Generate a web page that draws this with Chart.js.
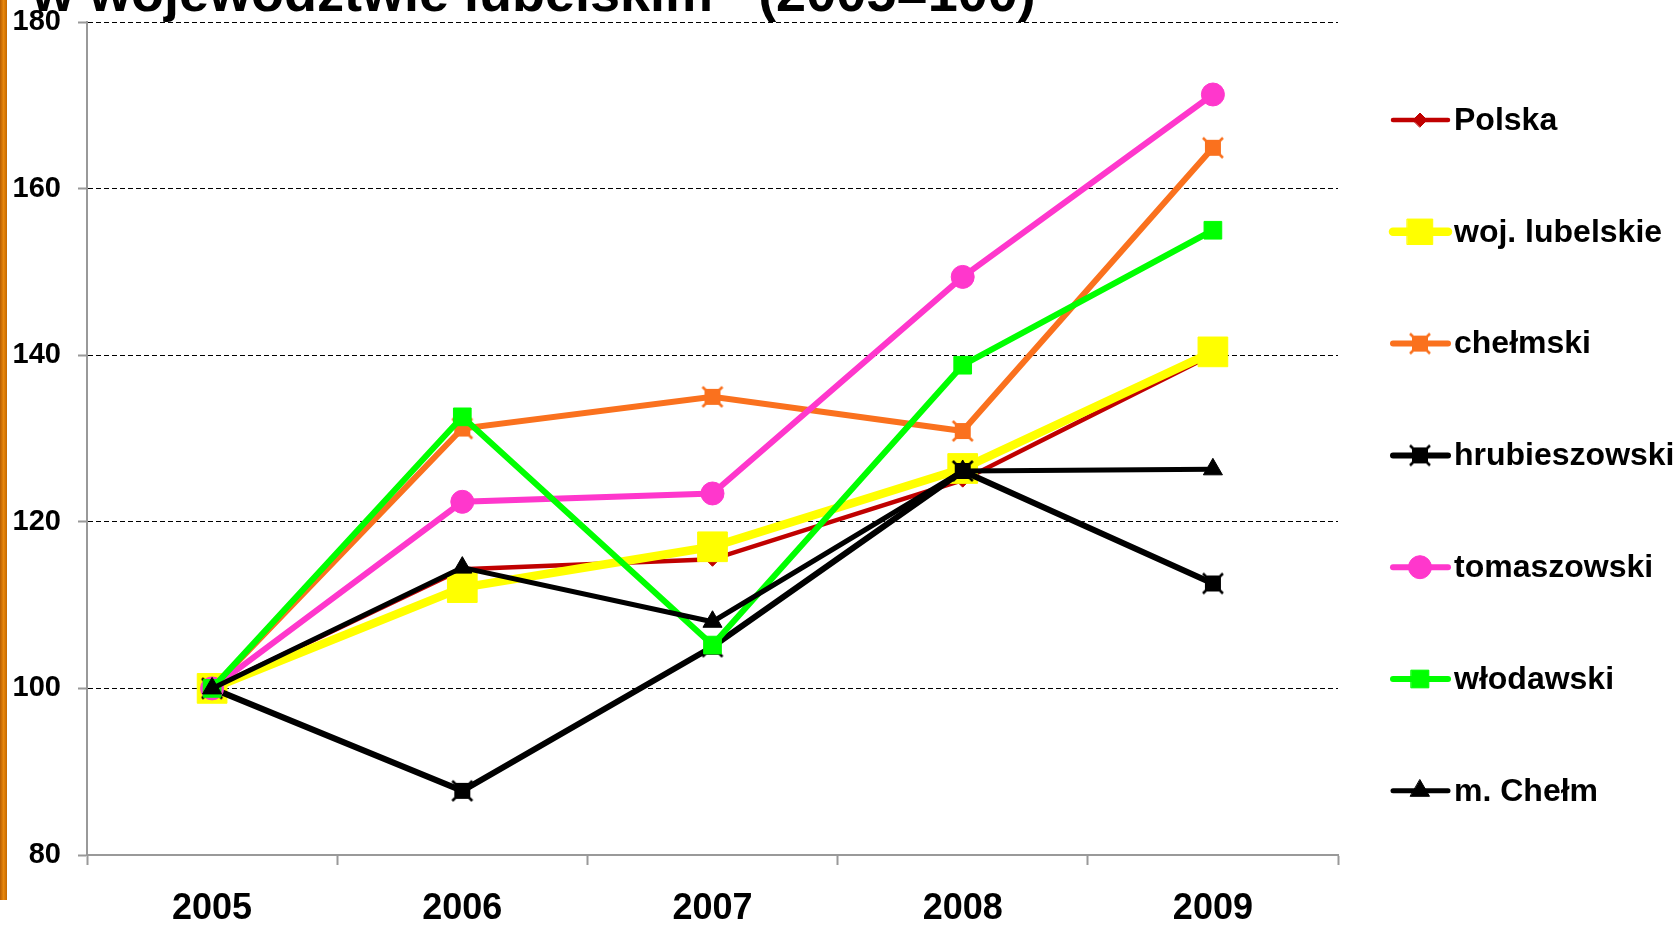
<!DOCTYPE html>
<html>
<head>
<meta charset="utf-8">
<script src="https://cdn.jsdelivr.net/npm/chart.js@4/dist/chart.umd.min.js"></script>
<style>
  html, body { margin: 0; padding: 0; background: #fff; }
  #wrap { position: relative; width: 1677px; height: 927px; overflow: hidden; }
  #bar { position: absolute; left: 0; top: 0; width: 7px; height: 900px;
         background: linear-gradient(to right, #b65c00, #e8870c 50%, #c46800); }
</style>
</head>
<body>
<div id="wrap">
  <canvas id="c" width="1677" height="927"></canvas>
  <div id="bar"></div>
</div>
<script>
// ---- data ----
const years = ["2005", "2006", "2007", "2008", "2009"];
const polska = [100, 114.3, 115.5, 125.0, 140.1];
const lubelskie = [100, 112.1, 117.0, 126.4, 140.4];
const chelmski = [100, 131.2, 135.0, 130.9, 164.9];
const hrubieszowski = [100, 87.7, 105.0, 126.1, 112.6];
const tomaszowski = [100, 122.4, 123.4, 149.4, 171.3];
const wlodawski = [100, 132.6, 105.2, 138.8, 155.0];
const mChelm = [100, 114.5, 108.0, 126.1, 126.3];

const seriesNames = ["Polska", "woj. lubelskie", "chełmski", "hrubieszowski",
                     "tomaszowski", "włodawski", "m. Chełm"];
const titleText = "w województwie lubelskim   (2005=100)";
const yMin = 80, yMax = 180, yStep = 20;

// square marker with little x-spikes at the corners (excel style)
function spikySquare(color) {
  const c = document.createElement("canvas");
  c.width = 24; c.height = 24;
  const g = c.getContext("2d");
  g.strokeStyle = color;
  g.lineWidth = 2.5;
  g.beginPath();
  g.moveTo(2, 2); g.lineTo(22, 22);
  g.moveTo(22, 2); g.lineTo(2, 22);
  g.stroke();
  g.fillStyle = color;
  g.fillRect(4, 4, 16, 16);
  return c;
}

const styles = [
  { color: "#c00000", width: 4.5, point: "rectRot", r: 7 },
  { color: "#ffff00", width: 8.5, point: "rect", r: 21 },
  { color: "#fa711e", width: 6, point: spikySquare("#fa711e"), r: 12 },
  { color: "#000000", width: 6, point: spikySquare("#000000"), r: 12 },
  { color: "#ff37cc", width: 6, point: "circle", r: 11.5 },
  { color: "#00ff00", width: 6, point: "rect", r: 12.5 },
  { color: "#000000", width: 5, point: "triangle", r: 11 }
];
const values = [polska, lubelskie, chelmski, hrubieszowski, tomaszowski, wlodawski, mChelm];

const datasets = values.map((v, i) => ({
  label: seriesNames[i],
  data: v,
  borderColor: styles[i].color,
  backgroundColor: styles[i].color,
  borderWidth: styles[i].width,
  pointStyle: styles[i].point,
  pointRadius: styles[i].r,
  pointHoverRadius: styles[i].r,
  pointBorderWidth: 1,
  pointBorderColor: styles[i].color,
  pointBackgroundColor: styles[i].color,
  tension: 0,
  fill: false,
  order: values.length - i   // later series drawn on top
}));

// title (cut by the top edge) + legend with line and marker
const extras = {
  id: "extras",
  afterDraw(chart) {
    const ctx = chart.ctx;
    ctx.save();
    ctx.fillStyle = "#000";
    ctx.font = "bold 54px 'Liberation Sans', Arial, sans-serif";
    ctx.textBaseline = "alphabetic";
    ctx.textAlign = "left";
    ctx.fillText(titleText, 32, 11);

    const drawPoint = Chart.helpers && Chart.helpers.drawPoint;
    chart.data.datasets.forEach((ds, i) => {
      const y = 120 + i * 111.8;
      ctx.strokeStyle = ds.borderColor;
      ctx.lineWidth = ds.borderWidth;
      ctx.lineCap = "round";
      ctx.beginPath();
      ctx.moveTo(1393, y);
      ctx.lineTo(1448, y);
      ctx.stroke();
      ctx.fillStyle = ds.pointBackgroundColor;
      ctx.strokeStyle = ds.pointBorderColor;
      ctx.lineWidth = 1;
      const r = ds.pointStyle === "rect" && ds.pointRadius > 15 ? 18 : ds.pointRadius;
      if (drawPoint) {
        drawPoint(ctx, { pointStyle: ds.pointStyle, radius: r, rotation: 0, borderWidth: 1 }, 1420, y);
      }
      ctx.fillStyle = "#000";
      ctx.font = "bold 32px 'Liberation Sans', Arial, sans-serif";
      ctx.textBaseline = "middle";
      ctx.fillText(ds.label, 1454, y + 1);
    });
    ctx.restore();
  }
};

new Chart(document.getElementById("c"), {
  type: "line",
  data: { labels: years, datasets: datasets },
  options: {
    responsive: false,
    animation: false,
    layout: { padding: { top: 21, right: 339, left: 0, bottom: 0 } },
    plugins: {
      legend: { display: false },
      title: { display: false },
      tooltip: { enabled: false }
    },
    scales: {
      x: {
        offset: true,
        grid: {
          offset: true,
          drawOnChartArea: false,
          drawTicks: true,
          tickLength: 10,
          tickColor: "#999",
          tickWidth: 2
        },
        border: { color: "#999", width: 2 },
        ticks: {
          color: "#000",
          padding: 22,
          font: { family: "'Liberation Sans', Arial, sans-serif", size: 36, weight: "bold" }
        },
        afterFit(scale) { scale.height = 72; }
      },
      y: {
        min: yMin,
        max: yMax,
        ticks: {
          stepSize: yStep,
          color: "#000",
          padding: 17,
          font: { family: "'Liberation Sans', Arial, sans-serif", size: 29, weight: "bold" }
        },
        grid: {
          color: (ctx) => (ctx.tick && ctx.tick.value === yMin ? "rgba(0,0,0,0)" : "#000"),
          lineWidth: 1,
          tickLength: 9,
          tickColor: "#999",
          tickWidth: 2
        },
        border: { color: "#999", width: 2, dash: [5, 3] },
        afterFit(scale) {
          scale.width = 87;
          scale.paddingTop = 0;
          scale.paddingBottom = 0;
        }
      }
    }
  },
  plugins: [extras]
});
</script>
</body>
</html>
